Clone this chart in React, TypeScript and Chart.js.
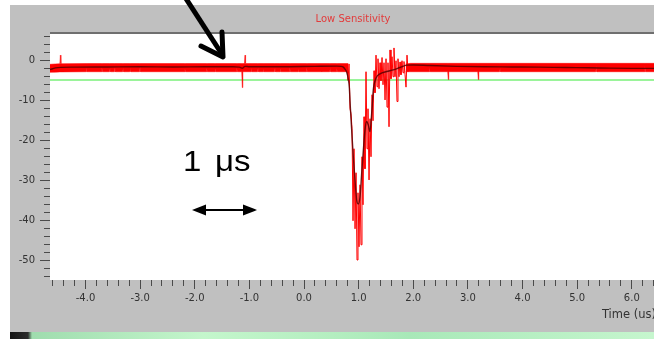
import React, { useEffect, useRef } from "react";
import { Chart, registerables } from "chart.js";

Chart.register(...registerables);

// ---------- axes ----------
const xRange = [-4.65, 6.443];
const yRange = [-54.8, 6.68];
const xMajorStep = 1;
const xMinorStep = 0.2;
const yMajorStep = 10;
const yMinorStep = 2;

const chartTitle = "Low Sensitivity";
const xAxisTitle = "Time (us)";
const scaleNote = "1 μs";

// ---------- data ----------
const thresholdLevel = -4.8;

// envelope of the raw (red) record before the pulse: [time, upper, lower]
const bandPre: [number, number, number][] = [
  [-4.65, -0.9, -2.9], [-4.55, -0.8, -2.85], [-4.47, -0.75, -2.8], [-4.46, 1.4, -2.8], [-4.45, -0.75, -2.8],
  [-3.989, -0.7, -2.75], [-3.98, -0.7, -1.7], [-3.971, -0.7, -2.75],
  [-3.709, -0.7, -2.75], [-3.7, -0.7, -1.6], [-3.691, -0.7, -2.75],
  [-3.559, -0.7, -2.75], [-3.55, -0.7, -1.8], [-3.541, -0.7, -2.75],
  [-3.469, -0.7, -2.75], [-3.46, -0.7, -1.6], [-3.451, -0.7, -2.75],
  [-3.319, -0.7, -2.75], [-3.31, -0.7, -1.7], [-3.301, -0.7, -2.75],
  [-3.189, -0.7, -2.75], [-3.18, -0.7, -1.9], [-3.171, -0.7, -2.75],
  [-3.009, -0.7, -2.75], [-3.0, -0.7, -1.3], [-2.991, -0.7, -2.75],
  [-2.189, -0.7, -2.75], [-2.18, -0.7, -2.0], [-2.171, -0.7, -2.75],
  [-1.789, -0.7, -2.75], [-1.78, -0.7, -1.8], [-1.771, -0.7, -2.75],
  [-1.639, -0.7, -2.75], [-1.63, -0.7, -1.9], [-1.621, -0.7, -2.75],
  [-1.239, -0.7, -2.75], [-1.23, -0.7, -1.7], [-1.221, -0.7, -2.75],
  [-1.14, -0.7, -2.75], [-1.13, -0.7, -6.7], [-1.12, -0.7, -2.75],
  [-1.09, -0.7, -2.75], [-1.08, 1.4, -2.75], [-1.07, -0.7, -2.75],
  [-0.969, -0.7, -2.75], [-0.96, -0.7, -1.8], [-0.951, -0.7, -2.75],
  [-0.849, -0.7, -2.75], [-0.84, -0.7, -1.6], [-0.831, -0.7, -2.75],
  [-0.749, -0.7, -2.75], [-0.74, -0.7, -2.0], [-0.731, -0.7, -2.75],
  [-0.539, -0.7, -2.75], [-0.53, -0.7, -1.7], [-0.521, -0.7, -2.75],
  [-0.449, -0.7, -2.75], [-0.44, -0.7, -1.9], [-0.431, -0.7, -2.75],
  [-0.269, -0.7, -2.75], [-0.26, -0.7, -1.6], [-0.251, -0.7, -2.75],
  [-0.109, -0.7, -2.75], [-0.1, -0.7, -2.0], [-0.091, -0.7, -2.75],
  [0.041, -0.7, -2.75], [0.05, -0.7, -1.6], [0.059, -0.7, -2.75],
  [0.311, -0.7, -2.75], [0.32, -0.7, -1.8], [0.329, -0.7, -2.75],
  [0.471, -0.7, -2.75], [0.48, -0.7, -1.6], [0.489, -0.7, -2.75],
  [0.591, -0.7, -2.75], [0.6, -0.7, -1.9], [0.609, -0.7, -2.75],
  [0.81, -0.7, -2.75],
];

// envelope of the raw record after the pulse: [time, upper, lower]
const bandPost: [number, number, number][] = [
  [1.86, -0.8, -2.75], [1.95, -0.65, -2.75],
  [2.291, -0.65, -2.75], [2.3, -0.65, -1.7], [2.309, -0.65, -2.75],
  [2.63, -0.65, -2.75], [2.64, -0.65, -4.7], [2.65, -0.65, -2.75],
  [3.18, -0.65, -2.75], [3.19, -0.65, -4.7], [3.2, -0.65, -2.75],
  [3.581, -0.65, -2.75], [3.59, -0.65, -1.8], [3.599, -0.65, -2.75],
  [5.341, -0.65, -2.75], [5.35, -0.65, -1.2], [5.359, -0.65, -2.75],
  [6.231, -0.65, -2.75], [6.24, -0.65, -1.3], [6.249, -0.65, -2.75],
  [6.45, -0.65, -2.75],
];

// raw record through the pulse: [time, value]
const pulseTrace: [number, number][] = [
  [0.787, -1.0], [0.805, -4.9], [0.824, -0.8], [0.842, -12.0], [0.86, -13.2], [0.879, -17.0],
  [0.897, -40.0], [0.915, -22.0], [0.934, -42.0], [0.952, -28.0], [0.97, -49.8], [0.988, -33.0],
  [1.007, -46.5], [1.025, -31.0], [1.043, -46.0], [1.061, -24.0], [1.08, -36.0], [1.098, -14.0],
  [1.116, -27.0], [1.135, -2.75], [1.153, -22.0], [1.171, -12.0], [1.19, -29.8], [1.208, -14.5],
  [1.226, -24.0], [1.245, -8.5], [1.263, -15.0], [1.281, -2.5], [1.299, -8.0], [1.318, 1.4],
  [1.336, -6.5], [1.354, 0.5], [1.373, -7.0], [1.391, -0.5], [1.409, -5.0], [1.428, 0.8],
  [1.446, -6.0], [1.464, -0.5], [1.483, -9.8], [1.501, 0.5], [1.519, -11.6], [1.537, -0.5],
  [1.556, -16.5], [1.574, 2.7], [1.592, -4.5], [1.611, 1.0], [1.629, -4.0], [1.647, 3.2],
  [1.666, -4.0], [1.684, 0.0], [1.702, -10.2], [1.72, 0.5], [1.739, -4.0], [1.757, -0.3],
  [1.775, -3.5], [1.794, 0.0], [1.812, -3.0], [1.83, -0.2], [1.849, -3.5], [1.867, -6.6],
  [1.885, 1.4], [1.904, -2.7], [1.922, -0.8],
];

// smoothed (fitted) record: [time, value]
const fitTrace: [number, number][] = [
  [-4.65, -2.2], [-4.6, -2.0], [-4.55, -1.8], [-4.45, -1.65], [-4.2, -1.6], [-3.6, -1.55],
  [-3.0, -1.5], [-2.4, -1.55], [-1.8, -1.5], [-1.3, -1.5], [-1.18, -1.6], [-1.13, -1.9],
  [-1.08, -1.4], [-1.0, -1.5], [-0.4, -1.5], [0.2, -1.4], [0.6, -1.35], [0.68, -1.4],
  [0.72, -1.6], [0.75, -2.1], [0.78, -2.8], [0.811, -4.6], [0.83, -6.8], [0.842, -10.2],
  [0.872, -17.3], [0.902, -24.0], [0.933, -29.8], [0.964, -34.8], [0.994, -35.8], [1.025, -34.0],
  [1.055, -28.2], [1.086, -22.3], [1.116, -17.3], [1.147, -15.2], [1.177, -16.1], [1.207, -17.7],
  [1.238, -13.2], [1.268, -7.3], [1.317, -4.4], [1.39, -3.3], [1.513, -2.7], [1.634, -2.3],
  [1.756, -1.7], [1.879, -1.1], [2.0, -1.05], [2.3, -1.2], [2.8, -1.4], [3.3, -1.5],
  [3.8, -1.55], [4.3, -1.6], [4.8, -1.7], [5.2, -1.75], [5.6, -1.85], [6.0, -1.9], [6.45, -1.9],
];

// ---------- helpers ----------
const pts = (rows: number[][], col: number) => rows.map((r) => ({ x: r[0], y: r[col] }));

const tickFont = { family: "'DejaVu Sans', sans-serif", size: 10 };
const tickColor = "#333333";
const tickMarkColor = "#4a4a4a";

const plotFrame = {
  id: "plotFrame",
  beforeDraw(chart: any) {
    const { ctx, chartArea: a } = chart;
    ctx.save();
    ctx.fillStyle = "#ffffff";
    ctx.fillRect(a.left, a.top, a.right - a.left, a.bottom - a.top);
    ctx.fillStyle = "#6f6f6f";
    ctx.fillRect(a.left, a.top - 2, a.right - a.left + 30, 2);
    ctx.restore();
  },
};

export default function App() {
  const canvasRef = useRef<HTMLCanvasElement>(null);

  useEffect(() => {
    document.body.style.margin = "0";
    const canvas = canvasRef.current;
    if (!canvas) return;
    Chart.defaults.font.family = "'DejaVu Sans', sans-serif";

    const edge = "rgba(255,0,0,0.5)";
    const chart = new Chart(canvas, {
      type: "line",
      data: {
        datasets: [
          {
            label: "fit",
            data: pts(fitTrace, 1),
            borderColor: "rgba(90,0,0,0.85)",
            borderWidth: 1.4,
            pointRadius: 0,
            cubicInterpolationMode: "monotone",
            fill: false,
          },
          {
            label: "raw pulse",
            data: pts(pulseTrace, 1),
            borderColor: "rgb(255,0,0)",
            borderWidth: 1,
            pointRadius: 0,
            tension: 0,
            fill: false,
          },
          {
            label: "raw upper (pre)",
            data: pts(bandPre, 1),
            borderColor: edge,
            borderWidth: 1,
            pointRadius: 0,
            fill: false,
          },
          {
            label: "raw lower (pre)",
            data: pts(bandPre, 2),
            borderColor: edge,
            borderWidth: 1,
            pointRadius: 0,
            backgroundColor: "rgb(255,0,0)",
            fill: "-1",
          },
          {
            label: "raw upper (post)",
            data: pts(bandPost, 1),
            borderColor: edge,
            borderWidth: 1,
            pointRadius: 0,
            fill: false,
          },
          {
            label: "raw lower (post)",
            data: pts(bandPost, 2),
            borderColor: edge,
            borderWidth: 1,
            pointRadius: 0,
            backgroundColor: "rgb(255,0,0)",
            fill: "-1",
          },
          {
            label: "threshold",
            data: [
              { x: xRange[0], y: thresholdLevel },
              { x: xRange[1], y: thresholdLevel },
            ],
            borderColor: "rgb(120,240,120)",
            borderWidth: 1.6,
            pointRadius: 0,
            fill: false,
          },
        ],
      },
      options: {
        animation: false,
        responsive: false,
        maintainAspectRatio: false,
        events: [],
        layout: { padding: { left: 0, right: 14, top: 0, bottom: 0 } },
        plugins: {
          legend: { display: false },
          tooltip: { enabled: false },
          title: {
            display: true,
            text: chartTitle,
            color: "#e23b3b",
            fullSize: false,
            font: { family: "'DejaVu Sans', sans-serif", size: 10, weight: "normal" },
            padding: { top: 8, bottom: 9 },
          },
        },
        scales: {
          x: {
            type: "linear",
            position: "bottom",
            min: xRange[0],
            max: xRange[1],
            border: { display: false },
            grid: { drawOnChartArea: false, drawTicks: true, tickLength: 9, tickColor: tickMarkColor, tickWidth: 1 },
            ticks: {
              stepSize: xMajorStep,
              includeBounds: false,
              autoSkip: false,
              maxRotation: 0,
              padding: 3,
              font: tickFont,
              color: tickColor,
              callback: (v: any) => Number(v).toFixed(1),
            },
            title: {
              display: true,
              text: xAxisTitle,
              align: "end",
              color: tickColor,
              font: { family: "'DejaVu Sans', sans-serif", size: 11.5 },
              padding: { top: 0, bottom: 10 },
            },
            afterFit: (s: any) => {
              s.height = 52;
            },
          },
          xMinor: {
            type: "linear",
            axis: "x",
            position: { y: yRange[0] },
            min: xRange[0],
            max: xRange[1],
            border: { display: false },
            grid: { drawOnChartArea: false, drawTicks: true, tickLength: 6, tickColor: tickMarkColor, tickWidth: 1 },
            ticks: { stepSize: xMinorStep, includeBounds: false, autoSkip: false, display: false },
          },
          y: {
            type: "linear",
            position: "left",
            min: yRange[0],
            max: yRange[1],
            border: { display: false },
            grid: { drawOnChartArea: false, drawTicks: true, tickLength: 10, tickColor: tickMarkColor, tickWidth: 1 },
            ticks: {
              stepSize: yMajorStep,
              includeBounds: false,
              autoSkip: false,
              padding: 5,
              font: tickFont,
              color: tickColor,
              callback: (v: any) => String(Math.round(Number(v))),
            },
            afterFit: (s: any) => {
              s.width = 40;
            },
          },
          yMinor: {
            type: "linear",
            axis: "y",
            position: { x: xRange[0] },
            min: yRange[0],
            max: yRange[1],
            border: { display: false },
            grid: { drawOnChartArea: false, drawTicks: true, tickLength: 6, tickColor: tickMarkColor, tickWidth: 1 },
            ticks: { stepSize: yMinorStep, includeBounds: false, autoSkip: false, display: false },
          },
        },
      },
      plugins: [plotFrame],
    } as any);

    return () => chart.destroy();
  }, []);

  return (
    <div style={{ position: "relative", width: 654, height: 339, overflow: "hidden", background: "#ffffff" }}>
      <div style={{ position: "absolute", left: 10, top: 5, width: 660, height: 327, background: "#c0c0c0" }}>
        <canvas ref={canvasRef} width={660} height={327} style={{ display: "block", width: 660, height: 327 }} />
      </div>
      <div
        style={{
          position: "absolute",
          left: 10,
          top: 332,
          width: 644,
          height: 7,
          background:
            "linear-gradient(to right, #141414 0px, #2b2b2b 18px, #9fdcae 22px, #c4f6cc 30%, #b4eec0 50%, #a8e8b8 62%, #c6f6ce 100%)",
        }}
      />
      <svg width={654} height={339} style={{ position: "absolute", left: 0, top: 0, overflow: "visible" }}>
        <line x1={183} y1={-6} x2={221.5} y2={53.5} stroke="#000" strokeWidth={5} />
        <polyline
          points="201,46 223,57 222,32"
          fill="none"
          stroke="#000"
          strokeWidth={5}
          strokeLinejoin="round"
          strokeLinecap="round"
        />
        <line x1={204} y1={210} x2={244} y2={210} stroke="#000" strokeWidth={2} />
        <polygon points="192,210 206,204.5 206,215.5" fill="#000" />
        <polygon points="257,210 243,204.5 243,215.5" fill="#000" />
      </svg>
      <div
        style={{
          position: "absolute",
          left: 183,
          top: 146,
          fontFamily: "'Liberation Sans', Arial, sans-serif",
          fontSize: 30,
          lineHeight: "30px",
          whiteSpace: "nowrap",
          wordSpacing: 4,
          color: "#000",
          transform: "scaleX(1.1)",
          transformOrigin: "left top",
        }}
      >
        {scaleNote}
      </div>
    </div>
  );
}
